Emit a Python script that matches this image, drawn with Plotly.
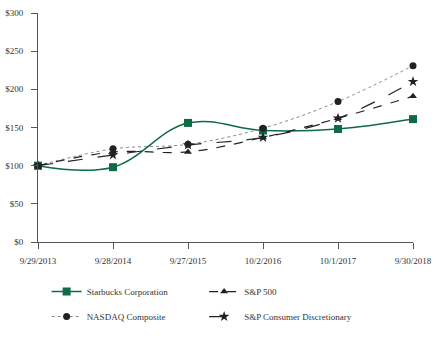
import plotly.graph_objects as go

dates = ["9/29/2013", "9/28/2014", "9/27/2015", "10/2/2016", "10/1/2017", "9/30/2018"]
starbucks = [100, 98, 156, 146, 148, 161]
sp500 = [100, 118, 118, 137, 162, 191]
nasdaq = [100, 122, 128, 149, 184, 231]
consdisc = [100, 114, 127, 137, 162, 210]
yticks = [0, 50, 100, 150, 200, 250, 300]
ytick_labels = ["$0", "$50", "$100", "$150", "$200", "$250", "$300"]

x = list(range(len(dates)))
font = "Liberation Serif"

fig = go.Figure()
fig.add_trace(go.Scatter(x=x, y=starbucks, name="Starbucks Corporation", mode="lines+markers",
                         line=dict(color="#0d6b45", width=1.5, shape="spline", smoothing=1.1),
                         marker=dict(symbol="square", size=8, color="#0d6b45"),
                         cliponaxis=False, legend="legend", legendgroup="a"))
fig.add_trace(go.Scatter(x=x, y=nasdaq, name="NASDAQ Composite", mode="lines+markers",
                         line=dict(color="#8a8a8a", width=1, dash="dot", shape="spline", smoothing=1.0),
                         marker=dict(symbol="circle", size=7, color="#222"),
                         cliponaxis=False, legend="legend", legendgroup="b"))
fig.add_trace(go.Scatter(x=x, y=sp500, name="S&P 500", mode="lines+markers",
                         line=dict(color="#222", width=1.2, dash="dash", shape="spline", smoothing=1.0),
                         marker=dict(symbol="triangle-up", size=7, color="#222"),
                         cliponaxis=False, legend="legend2", legendgroup="c"))
fig.add_trace(go.Scatter(x=x, y=consdisc, name="S&P Consumer Discretionary", mode="lines+markers",
                         line=dict(color="#222", width=1.2, dash="longdash", shape="spline", smoothing=1.0),
                         marker=dict(symbol="star", size=8, color="#222"),
                         cliponaxis=False, legend="legend2", legendgroup="d"))

legend_common = dict(orientation="v", font=dict(family=font, size=9, color="#333"),
                     bgcolor="rgba(0,0,0,0)", tracegroupgap=6, itemwidth=30,
                     xanchor="left", yanchor="top", xref="paper", yref="paper")
fig.update_layout(
    width=439, height=348,
    margin=dict(l=38, r=26, t=13, b=106),
    paper_bgcolor="white", plot_bgcolor="white",
    font=dict(family=font, size=9, color="#333"),
    legend=dict(x=0.023, y=-0.153, **legend_common),
    legend2=dict(x=0.443, y=-0.153, **legend_common),
    xaxis=dict(range=[0, 5], tickvals=x, ticktext=dates, showgrid=False, zeroline=False,
               showline=True, linecolor="#555", linewidth=1, ticks="outside", ticklen=6,
               tickcolor="#555", ticklabelstandoff=4, automargin=False,
               tickfont=dict(family=font, size=9, color="#333")),
    yaxis=dict(range=[0, 300], tickvals=yticks, ticktext=ytick_labels, showgrid=False,
               zeroline=False, showline=True, linecolor="#555", linewidth=1, ticks="outside",
               ticklen=6, tickcolor="#555", ticklabelstandoff=6, automargin=False,
               tickfont=dict(family=font, size=9, color="#333")),
)
fig.write_html("out.html")
